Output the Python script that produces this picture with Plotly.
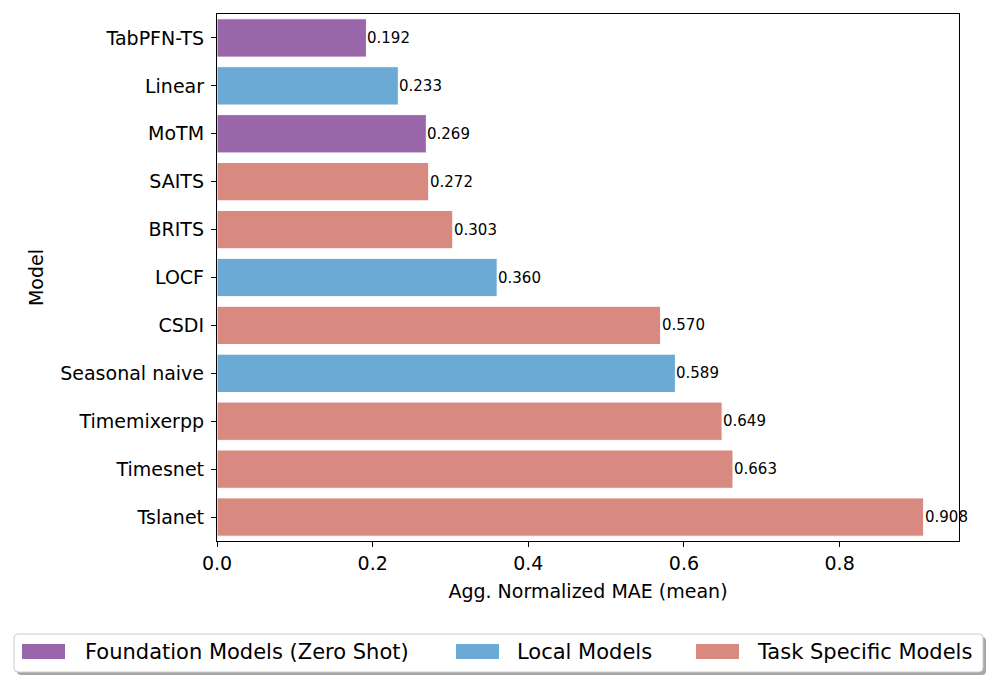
import plotly.graph_objects as go

models = ["TabPFN-TS", "Linear", "MoTM", "SAITS", "BRITS", "LOCF", "CSDI",
          "Seasonal naive", "Timemixerpp", "Timesnet", "Tslanet"]
mae = [0.192, 0.233, 0.269, 0.272, 0.303, 0.360, 0.570, 0.589, 0.649, 0.663, 0.908]
groups = ["Foundation Models (Zero Shot)", "Local Models", "Foundation Models (Zero Shot)",
          "Task Specific Models", "Task Specific Models", "Local Models", "Task Specific Models",
          "Local Models", "Task Specific Models", "Task Specific Models", "Task Specific Models"]
group_order = ["Foundation Models (Zero Shot)", "Local Models", "Task Specific Models"]
group_colors = {"Foundation Models (Zero Shot)": "#9966AA",
                "Local Models": "#6BAAD5",
                "Task Specific Models": "#D98A80"}
x_ticks = [0.0, 0.2, 0.4, 0.6, 0.8]

FONT = "DejaVu Sans"
OFF = 8  # page body margin
W, H = 997 - OFF, 686 - OFF
L, T = 217 - OFF, 14 - OFF
PR, PB = 959 - OFF, 541 - OFF
R, B = W - PR, H - PB
PW, PH = PR - L, PB - T


def xp(px):
    return (px - OFF - L) / PW


def yp(py):
    return (PB - (py - OFF)) / PH


fig = go.Figure()
for g in group_order:
    ys = [m for m, gg in zip(models, groups) if gg == g]
    xs = [v for v, gg in zip(mae, groups) if gg == g]
    fig.add_trace(go.Bar(
        x=xs, y=ys, orientation="h", name=g,
        marker=dict(color=group_colors[g], line=dict(color="white", width=1)),
        width=0.8, showlegend=False,
    ))

annotations = []
for m, v in zip(models, mae):
    annotations.append(dict(x=v, y=m, xref="x", yref="y", text=f"{v:.3f}",
                            xanchor="left", yanchor="middle", showarrow=False,
                            xshift=-1, font=dict(family=FONT, size=15, color="black")))

shapes = []
bx0, bx1, by0, by1 = 14, 983, 634, 672
r = 4


def rounded(x0, y0, x1, y1):
    return (f"M {xp(x0 + r)},{yp(y0)} L {xp(x1 - r)},{yp(y0)} "
            f"Q {xp(x1)},{yp(y0)} {xp(x1)},{yp(y0 + r)} "
            f"L {xp(x1)},{yp(y1 - r)} Q {xp(x1)},{yp(y1)} {xp(x1 - r)},{yp(y1)} "
            f"L {xp(x0 + r)},{yp(y1)} Q {xp(x0)},{yp(y1)} {xp(x0)},{yp(y1 - r)} "
            f"L {xp(x0)},{yp(y0 + r)} Q {xp(x0)},{yp(y0)} {xp(x0 + r)},{yp(y0)} Z")


shapes.append(dict(type="path", xref="paper", yref="paper", path=rounded(bx0 + 3, by0 + 3, bx1 + 3, by1 + 3),
                   fillcolor="#A8A8A8", line=dict(width=0)))
shapes.append(dict(type="path", xref="paper", yref="paper", path=rounded(bx0, by0, bx1, by1),
                   fillcolor="white", line=dict(color="#CCCCCC", width=1)))
patch_x = [22, 456, 696]
text_x = [83, 515, 755]
for g, px0, tx in zip(group_order, patch_x, text_x):
    shapes.append(dict(type="rect", xref="paper", yref="paper",
                       x0=xp(px0), x1=xp(px0 + 43), y0=yp(659), y1=yp(644),
                       fillcolor=group_colors[g], line=dict(width=0)))
    annotations.append(dict(xref="paper", yref="paper", x=xp(tx), y=yp(652),
                            xanchor="left", yanchor="middle", showarrow=False,
                            text=g, font=dict(family=FONT, size=21, color="black")))

fig.update_layout(
    width=W, height=H,
    margin=dict(l=L, r=R, t=T, b=B),
    paper_bgcolor="white", plot_bgcolor="white",
    font=dict(family=FONT, size=19, color="black"),
    barmode="overlay",
    shapes=shapes, annotations=annotations,
    xaxis=dict(range=[0, 0.9534], tickvals=x_ticks, tickformat=".1f",
               showgrid=False, zeroline=False,
               showline=True, mirror=True, linecolor="black", linewidth=1.3,
               ticks="outside", ticklen=5, tickwidth=1.2, tickcolor="black",
               tickfont=dict(size=19),
               title=dict(text="Agg. Normalized MAE (mean)", font=dict(size=19), standoff=11)),
    yaxis=dict(categoryorder="array", categoryarray=models, autorange="reversed",
               showgrid=False, zeroline=False,
               showline=True, mirror=True, linecolor="black", linewidth=1.3,
               ticks="outside", ticklen=5, tickwidth=1.2, tickcolor="black",
               tickfont=dict(size=19), ticklabelstandoff=3,
               title=dict(text="Model", font=dict(size=19), standoff=11)),
)

fig.write_html("out.html")
